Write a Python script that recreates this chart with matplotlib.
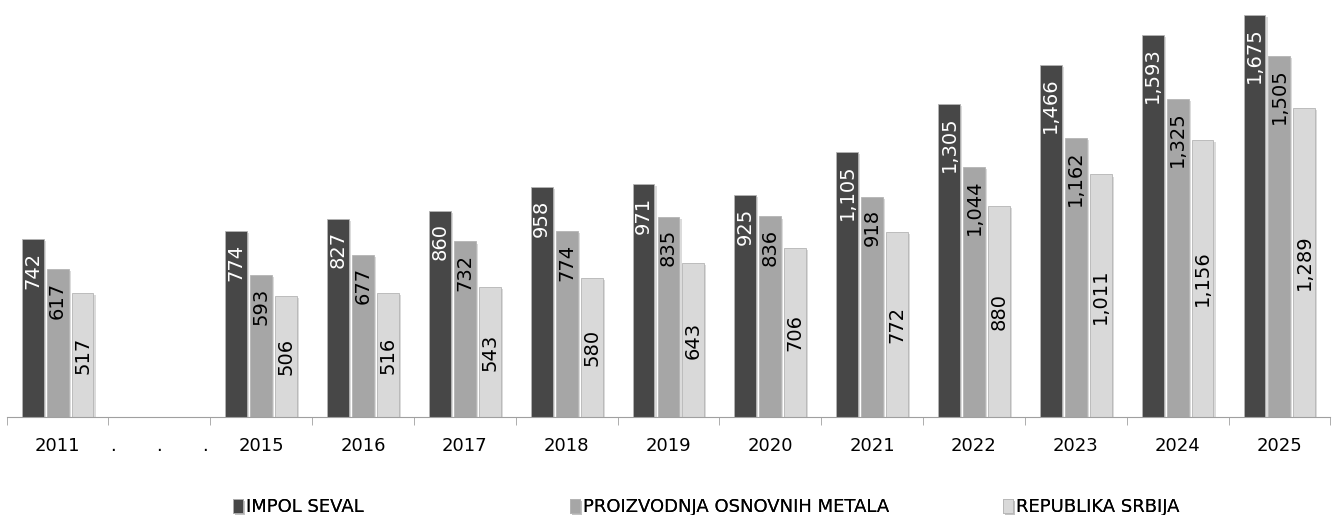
import matplotlib
matplotlib.use("Agg")
import matplotlib.pyplot as plt
import matplotlib.patheffects as pe
import numpy as np

categories = ["2011", ".       .       .", "2015", "2016", "2017", "2018", "2019",
              "2020", "2021", "2022", "2023", "2024", "2025"]
impol = [742, np.nan, 774, 827, 860, 958, 971, 925, 1105, 1305, 1466, 1593, 1675]
metali = [617, np.nan, 593, 677, 732, 774, 835, 836, 918, 1044, 1162, 1325, 1505]
srbija = [517, np.nan, 506, 516, 543, 580, 643, 706, 772, 880, 1011, 1156, 1289]

series = [
    ("IMPOL SEVAL", impol, "#474747", "white", "end"),
    ("PROIZVODNJA OSNOVNIH METALA", metali, "#a6a6a6", "black", "end"),
    ("REPUBLIKA SRBIJA", srbija, "#d9d9d9", "black", "center"),
]
legend_x = [233, 570, 1003]  # pixel positions of legend keys

fig = plt.figure(figsize=(13.33, 5.15), dpi=100)
ax = fig.add_axes([0.005, 0.19, 0.993, 0.81])

x = np.arange(len(categories))
w = 0.215
shadow = [pe.SimplePatchShadow(offset=(1.5, -1.5), shadow_rgbFace="#999999", alpha=0.35), pe.Normal()]

for i, (name, vals, col, tcol, where) in enumerate(series):
    pos = x + (i - 1) * 0.245
    bars = ax.bar(pos, vals, width=w, color=col, edgecolor="#b5b5b5", linewidth=0.6,
                  label=name, path_effects=shadow)
    for xp, v in zip(pos, vals):
        if np.isnan(v):
            continue
        if where == "end":
            ax.annotate(f"{int(v):,}", (xp, v), xytext=(0, -9), textcoords="offset points",
                        rotation=90, ha="center", va="top", fontsize=14, color=tcol)
        else:
            ax.text(xp, v / 2, f"{int(v):,}", rotation=90, ha="center", va="center",
                    fontsize=14, color=tcol)
    leg = fig.legend(handles=[bars], labels=[name], loc="center left",
                     bbox_to_anchor=(legend_x[i] / 1333, 1 - 507 / 515), frameon=False,
                     fontsize=13, handlelength=0.55, handleheight=0.85, handletextpad=0.15,
                     borderpad=0, borderaxespad=0)
    fig.add_artist(leg)

ax.set_xlim(-0.5, len(categories) - 0.5)
ax.set_ylim(0, 1738)
ax.set_yticks([])
for s in ["top", "left", "right"]:
    ax.spines[s].set_visible(False)
ax.spines["bottom"].set_color("#a0a0a0")
ax.set_xticks(x)
ax.set_xticklabels(categories, fontsize=13)
ax.tick_params(axis="x", which="major", length=0, pad=14)
ax.set_xticks(np.arange(len(categories) + 1) - 0.5, minor=True)
ax.tick_params(axis="x", which="minor", length=6, color="#a0a0a0")

fig.savefig("out.png", dpi=100)
